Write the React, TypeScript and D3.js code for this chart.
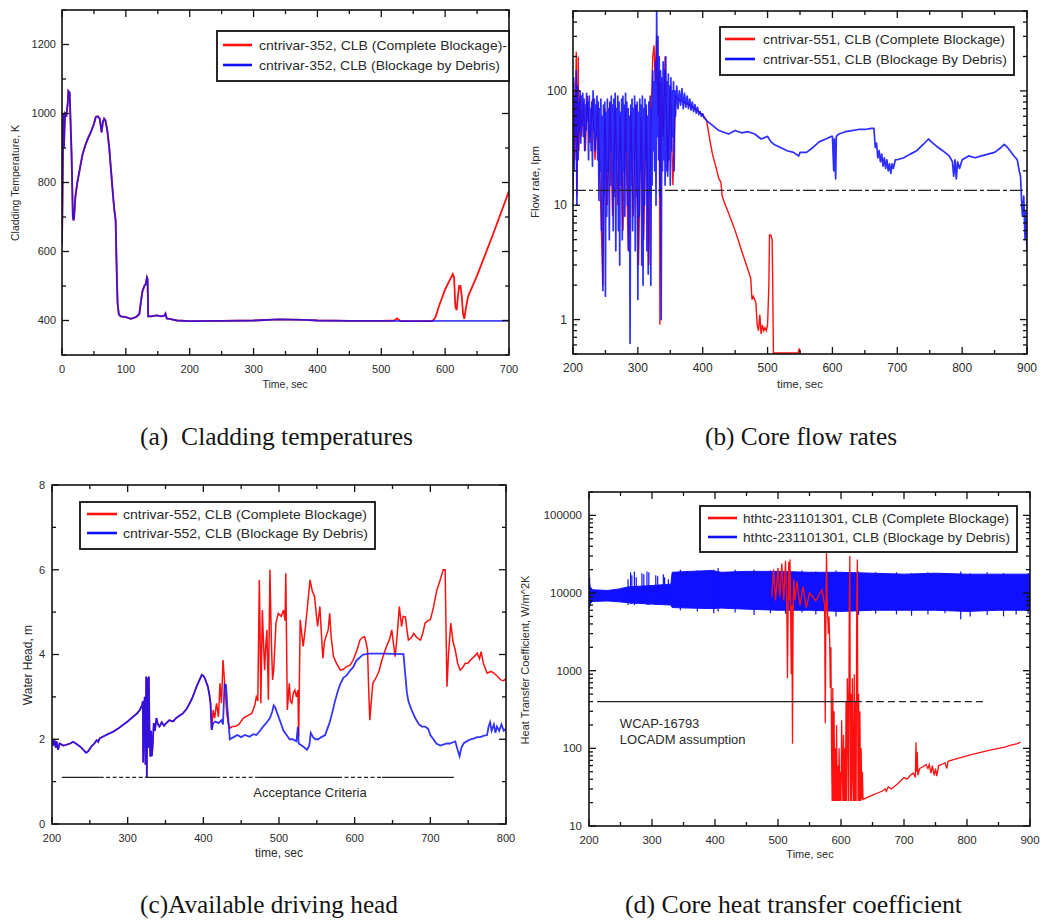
import React, { useEffect, useRef } from 'react'
import * as d3 from 'd3'

const RED = '#ff1010'
const BLUE = '#1010ff'
const INK = '#2a2a2a'
const SANS = '"Liberation Sans", Arial, sans-serif'
const SERIF = '"Liberation Serif", "Times New Roman", serif'

// (a) cladding temperature [time s, K]
const cladDebris = [
  [0, 620], [1, 800], [2, 1000], [3, 900], [4, 960], [5, 1000], [7, 995], [9, 1030], [10, 1065], [12, 1060],
  [13, 1000], [15, 880], [17, 700], [18, 690], [19, 700], [21, 760], [24, 800], [28, 840], [32, 880], [36, 905],
  [40, 925], [45, 945], [50, 970], [53, 990], [56, 992], [59, 985], [61, 960], [62, 945], [64, 975], [66, 985],
  [68, 980], [71, 950], [74, 900], [77, 830], [80, 760], [82, 720], [84, 690], [85, 600], [86, 520], [87, 450],
  [89, 418], [92, 412], [100, 410], [108, 405], [116, 410], [121, 418], [124, 460], [126, 485], [129, 500], [131, 505],
  [133, 525], [134, 520], [135, 412], [140, 412], [148, 415], [156, 412], [160, 414], [162, 420], [164, 406], [170, 404],
  [180, 400], [200, 398], [250, 399], [300, 400], [340, 403], [380, 402], [400, 400], [450, 399], [500, 399], [550, 398],
  [600, 399], [650, 399], [700, 399],
]
const cladCompleteTail = [
  [520, 400], [525, 406], [530, 398], [580, 398], [585, 410], [590, 440], [600, 490], [608, 520], [612, 535], [614, 525],
  [616, 440], [618, 430], [620, 470], [622, 500], [624, 500], [626, 470], [628, 420], [630, 405], [632, 430], [636, 470],
  [650, 530], [675, 650], [700, 775],
]

// (b) core flow rate [time s, lpm]
const flowDebris = [
  [200, 12], [201, 130], [202, 20], [203, 90], [204, 40], [205, 150], [206, 10], [207, 110], [208, 25], [209, 80],
  [210, 45], [211, 100], [212, 35], [213, 90], [214, 50], [215, 95], [216, 40], [217, 85], [218, 30], [219, 75],
  [220, 45], [221, 95], [222, 55], [223, 80], [224, 25], [225, 90], [226, 40], [227, 70], [228, 30], [229, 80],
  [230, 22], [231, 100], [232, 45], [233, 85], [234, 30], [235, 75], [236, 40], [237, 90], [238, 25], [239, 80],
  [240, 11], [241, 70], [242, 20], [243, 85], [244, 6], [245, 60], [246, 1.8], [247, 75], [248, 12], [249, 80],
  [250, 1.6], [251, 65], [252, 8], [253, 85], [254, 20], [255, 70], [256, 5], [257, 80], [258, 15], [259, 90],
  [260, 30], [261, 75], [262, 6], [263, 85], [264, 12], [265, 95], [266, 4], [267, 70], [268, 25], [269, 90],
  [270, 6], [271, 80], [272, 3], [273, 65], [274, 15], [275, 85], [276, 5], [277, 90], [278, 20], [279, 75],
  [280, 8], [281, 95], [282, 30], [283, 80], [284, 10], [285, 70], [286, 4], [287, 60], [288, 0.62], [289, 75],
  [290, 15], [291, 85], [292, 6], [293, 70], [294, 25], [295, 90], [296, 4], [297, 75], [298, 12], [299, 80],
  [300, 1.5], [301, 65], [302, 8], [303, 85], [304, 20], [305, 75], [306, 3], [307, 90], [308, 2], [309, 70],
  [310, 10], [311, 85], [312, 25], [313, 75], [314, 4], [315, 60], [316, 2.5], [317, 80], [318, 12], [319, 90],
  [320, 2], [321, 70], [322, 15], [323, 150], [324, 30], [325, 120], [326, 20], [327, 180], [328, 10], [329, 520],
  [330, 40], [331, 300], [332, 25], [333, 200], [334, 12], [335, 150], [336, 1.0], [337, 130], [338, 20], [339, 180],
  [340, 25], [341, 150], [342, 15], [343, 200], [344, 20], [345, 120], [346, 18], [347, 140], [348, 25], [349, 110],
  [350, 15], [351, 130], [352, 30], [353, 100], [354, 40], [355, 120], [356, 20], [357, 100], [358, 60], [360, 110],
  [362, 70], [364, 100], [366, 75], [368, 105], [370, 70], [372, 95], [374, 72], [376, 90], [378, 70], [380, 85],
  [382, 68], [384, 80], [386, 66], [388, 76], [390, 64], [392, 72], [394, 62], [396, 66], [398, 60], [400, 63],
  [402, 58], [404, 57], [406, 55], [415, 50], [425, 45], [440, 42], [450, 45], [460, 43], [470, 44], [480, 42],
  [490, 38], [500, 40], [505, 36], [510, 34], [520, 32], [530, 30], [540, 29], [548, 27], [550, 29], [560, 29],
  [570, 32], [580, 36], [590, 38], [598, 40], [600, 40], [602, 20], [603, 38], [605, 17], [606, 40], [610, 42],
  [620, 44], [630, 45], [640, 46], [650, 46], [660, 47], [664, 47], [666, 32], [668, 35], [670, 26], [672, 30],
  [674, 24], [676, 28], [678, 22], [680, 26], [682, 21], [684, 25], [686, 20], [688, 23], [690, 19], [692, 23],
  [694, 21], [697, 25], [700, 25], [710, 26], [720, 28], [730, 30], [740, 34], [748, 38], [752, 36], [760, 33],
  [770, 30], [780, 27], [785, 24], [787, 18], [789, 25], [791, 17], [793, 24], [796, 21], [800, 25], [810, 27],
  [820, 26], [830, 27], [840, 28], [850, 29], [860, 32], [865, 34], [870, 32], [880, 27], [885, 25], [888, 20],
  [890, 18], [892, 10], [893, 8], [895, 12], [897, 5], [898, 9], [900, 4],
]
const flowCompleteEarly = [
  [200, 15], [201, 120], [203, 25], [205, 220], [206, 12], [208, 200], [209, 30], [211, 90], [213, 40], [216, 80],
  [219, 30], [222, 90], [226, 35], [230, 85], [234, 25], [238, 75], [242, 15], [246, 2], [249, 70], [253, 10],
  [257, 80], [261, 8], [265, 75], [269, 10], [273, 60], [277, 6], [281, 70], [285, 4], [289, 65], [293, 8],
  [297, 75], [301, 3], [305, 60], [309, 5], [313, 70], [317, 3], [320, 50], [323, 200], [325, 250], [327, 120],
  [329, 300], [331, 60], [333, 150], [334, 0.9], [336, 120], [339, 40], [342, 200], [346, 20], [350, 110], [354, 15],
  [358, 90], [362, 85], [370, 80], [380, 75], [390, 68], [400, 62],
]
const flowCompleteTail = [
  [406, 55], [410, 40], [415, 28], [420, 22], [425, 17], [428, 16], [430, 12], [435, 10], [440, 8.5], [450, 6],
  [460, 4], [470, 2.7], [474, 2.3], [476, 1.5], [478, 1.6], [480, 1.5], [482, 1.4], [484, 0.9], [486, 0.8], [488, 1.1],
  [490, 0.75], [492, 0.9], [494, 0.8], [496, 0.85], [498, 0.8], [500, 0.9], [502, 2], [503, 5.5], [505, 5.5], [507, 5],
  [508, 2], [509, 0.51], [547, 0.51], [549, 0.56], [550, 0.51],
]
const flowLimit = 13.5

// (c) available driving head [time s, m]
const headDebris = [
  [200, 1.98], [202, 1.85], [203, 2.0], [205, 1.8], [206, 1.95], [208, 1.75], [210, 1.9], [215, 1.85], [219, 1.87], [224, 1.9],
  [228, 1.94], [233, 1.88], [237, 1.83], [241, 1.76], [245, 1.68], [248, 1.72], [252, 1.83], [256, 1.9], [259, 1.98], [261, 1.94],
  [263, 2.02], [267, 2.06], [274, 2.12], [281, 2.18], [288, 2.26], [294, 2.34], [300, 2.42], [307, 2.53], [312, 2.6], [316, 2.69],
  [319, 2.8], [320, 2.9], [320.5, 1.45], [321.5, 2.6], [322.5, 3.0], [323.5, 1.4], [324.5, 3.48], [325.3, 1.1], [326.2, 3.45], [327, 1.8],
  [328, 3.48], [329, 2.0], [330, 1.59], [331, 2.2], [332, 1.6], [333, 1.83], [334.5, 2.38], [336, 2.2], [338, 2.5], [340, 2.35],
  [342, 2.3], [345, 2.4], [348, 2.32], [351, 2.38], [355, 2.45], [360, 2.42], [364, 2.5], [368, 2.55], [373, 2.61], [378, 2.72],
  [382, 2.85], [386, 3.0], [391, 3.24], [395, 3.4], [398, 3.52], [400, 3.5], [402, 3.44], [406, 3.24], [408, 3.05], [409.5, 2.85],
  [411, 2.22], [413, 2.38], [416, 2.42], [420, 2.38], [424, 2.45], [426, 2.35], [428, 3.3], [430, 3.28], [432, 2.7], [435, 2.0],
  [440, 2.05], [445, 2.1], [450, 2.05], [455, 2.1], [461, 2.06], [466, 2.12], [470, 2.1], [475, 2.2], [479, 2.3], [484, 2.4],
  [488, 2.5], [491, 2.65], [493, 2.8], [495, 2.75], [498, 2.6], [502, 2.4], [506, 2.2], [510, 2.1], [514, 2.0], [518, 2.0],
  [523, 1.95], [525, 2.3], [526, 1.9], [530, 1.85], [534, 1.8], [537, 1.75], [540, 1.85], [542, 2.15], [545, 2.05], [548, 2.0],
  [552, 2.0], [556, 2.05], [561, 2.1], [564, 2.25], [567, 2.4], [570, 2.6], [574, 2.9], [578, 3.15], [581, 3.3], [585, 3.45],
  [589, 3.5], [593, 3.6], [598, 3.7], [602, 3.85], [605, 3.9], [608, 3.95], [611.5, 4.0], [620, 4.02], [640, 4.02], [664.5, 4.01],
  [667, 3.5], [669, 3.1], [671, 2.9], [675, 2.7], [680, 2.5], [685, 2.35], [689, 2.3], [693, 2.3], [697, 2.25], [700, 2.1],
  [704, 2.0], [708, 1.9], [713, 1.85], [718, 1.88], [722, 1.9], [726, 1.9], [730, 1.93], [733, 1.95], [736, 1.75], [738.6, 1.6],
  [741, 1.8], [744, 1.9], [748, 1.95], [753, 2.0], [758, 2.02], [762, 2.05], [766, 2.05], [770, 2.08], [775, 2.1], [777, 2.3],
  [779, 2.4], [781, 2.2], [784, 2.35], [786, 2.15], [788, 2.3], [791, 2.2], [794, 2.35], [797, 2.2], [800, 2.25],
]
const headCompleteTail = [
  [411, 2.22], [413, 2.69], [415, 2.5], [417.5, 2.85], [420, 2.53], [422, 3.32], [424, 2.85], [426, 3.87], [428.5, 3.24], [431, 2.6],
  [433, 2.38], [435, 2.26], [438, 2.3], [442, 2.3], [447, 2.35], [453, 2.5], [458, 2.55], [464, 2.61], [468, 2.8], [470, 3.0],
  [472, 2.9], [474, 5.76], [475, 4.5], [476, 2.85], [478, 5.05], [479.5, 4.3], [481, 3.63], [482.5, 4.2], [484, 4.58], [486, 2.93],
  [488, 6.0], [490, 4.26], [491.5, 3.4], [493, 3.63], [496, 4.74], [499, 4.97], [503, 4.9], [506, 5.05], [508, 4.8], [509, 5.92],
  [511, 2.69], [513.6, 3.32], [515, 2.9], [517, 2.85], [519, 3.1], [521, 3.16], [523, 3.0], [525, 3.16], [526, 2.06], [528, 4.82],
  [530, 4.5], [532, 4.19], [535, 4.66], [538, 5.2], [541, 5.76], [544, 5.5], [547, 5.37], [549, 5.0], [551, 4.66], [554, 5.13],
  [556, 4.5], [558, 3.91], [560, 4.3], [562, 4.42], [565, 4.58], [567, 4.97], [569, 4.4], [572, 3.95], [576, 3.79], [581, 3.63],
  [585, 3.65], [589, 3.71], [594, 3.75], [598, 3.87], [603, 4.1], [607, 4.34], [610, 4.4], [613, 4.42], [615, 4.3], [617, 4.1],
  [618.5, 3.2], [620, 2.45], [622, 2.9], [624, 3.32], [629, 3.48], [632, 3.6], [636, 3.87], [642, 4.19], [646, 4.35], [649, 4.58],
  [651, 4.3], [653.5, 3.95], [656, 4.4], [659, 5.13], [662, 4.66], [664, 4.9], [667, 4.89], [669, 4.6], [671, 4.34], [675, 4.4],
  [678, 4.5], [682, 4.4], [687, 4.34], [690, 4.5], [693, 4.74], [697, 4.8], [700, 4.82], [704, 5.1], [708.6, 5.52], [712, 5.7],
  [717, 6.0], [719.6, 6.0], [720.8, 4.5], [722, 3.24], [724, 4.0], [727, 4.74], [730, 4.3], [733, 4.1], [736, 3.8], [739.5, 3.63],
  [743, 3.7], [746, 3.79], [750, 3.8], [753, 3.87], [758, 3.95], [762, 4.03], [765, 3.9], [767, 4.07], [770, 3.8], [775, 3.56],
  [780, 3.6], [784, 3.56], [788, 3.5], [793, 3.4], [797, 3.38], [800, 3.44],
]
const headCriteria = 1.1
// [from s, to s, dashed]
const headCriteriaSegments = [
  [213, 263, 0], [263, 323, 1], [323, 417, 0], [417, 472, 1], [472, 578, 0], [578, 636, 1], [636, 731, 0],
]

// (d) heat transfer coefficient band [time s, low, high] W/m2K
const htcDebrisBand = [
  [200, 6800, 14000], [202, 7300, 12000], [206, 7800, 11000], [230, 7900, 10800], [248, 7700, 11300], [262, 7500, 12000],
  [300, 7200, 12500], [330, 7000, 13000], [332, 6500, 18500], [360, 6400, 19000], [395, 6300, 19500], [410, 6400, 18500],
  [450, 6200, 19000], [500, 6000, 19000], [550, 6000, 18500], [600, 5800, 18500], [650, 6000, 18000], [700, 6000, 17500],
  [750, 6000, 18000], [800, 5800, 17500], [850, 6000, 17500], [900, 6000, 17500],
]
const htcDebrisSpikes = [
  [201, 6500, 16000], [262, 7000, 15000], [266, 7200, 18500], [268, 7200, 17000], [272, 7000, 19000], [275, 7200, 16000],
  [284, 7300, 18000], [287, 7200, 17500], [292, 7000, 19000], [295, 7000, 18500], [306, 7000, 17000], [309, 7100, 16500],
  [318, 7100, 17500], [320, 7000, 16000], [326, 7000, 15000], [345, 6000, 20000], [372, 5800, 19500],
  [398, 5500, 20000], [405, 5800, 21000], [432, 5600, 20000], [462, 5200, 20000], [488, 5500, 19500], [512, 5400, 20000],
  [538, 5600, 19500], [560, 5300, 19000], [592, 5000, 19500], [628, 5200, 19000], [655, 5400, 18500], [688, 5300, 18500],
  [712, 5100, 18000], [738, 5300, 18500], [765, 5500, 18000], [790, 4600, 19000], [805, 5000, 18000], [832, 5200, 18500],
  [858, 5000, 18000], [878, 5300, 17500], [897, 5400, 18000],
]
const htcComplete = [
  [490, 9000], [493, 20000], [496, 8000], [500, 21000], [503, 9000], [506, 24000], [509, 8000], [512, 26000], [514, 6000], [515, 800],
  [516, 5000], [517, 25000], [518, 8000], [519, 27000], [520, 6000], [521, 900], [522, 7000], [523, 115], [524, 6000], [525, 15000],
  [527, 8000], [530, 14000], [535, 7000], [540, 12000], [545, 6500], [550, 10000], [560, 8000], [570, 11000], [574, 7000], [575, 210],
  [576, 4000], [577, 36000], [578, 8000], [580, 3000], [581, 5000], [582, 2500], [583, 600], [584, 2000], [585, 100], [586, 21],
  [587, 600], [588, 21], [589, 300], [590, 21], [591, 100], [592, 21], [593, 200], [594, 21], [595, 60], [596, 21],
  [597, 100], [598, 21], [599, 50], [600, 21], [601, 230], [602, 60], [603, 21], [604, 150], [605, 21], [606, 100],
  [607, 21], [608, 400], [609, 21], [610, 800], [611, 300], [612, 21], [613, 5000], [614, 30000], [615, 21], [616, 500],
  [617, 21], [618, 800], [619, 50], [620, 21], [621, 900], [622, 21], [623, 400], [624, 21], [625, 8000], [626, 27000],
  [627, 21], [628, 500], [629, 21], [630, 300], [631, 21], [632, 100], [633, 22], [634, 50], [635, 22], [640, 23],
  [650, 25], [655, 26], [660, 27], [665, 28], [670, 30], [672, 28], [675, 32], [680, 30], [690, 35], [700, 42],
  [705, 40], [710, 45], [715, 48], [718, 42], [719, 120], [720, 50], [721, 90], [722, 45], [725, 55], [730, 58],
  [735, 62], [738, 55], [740, 62], [743, 48], [745, 60], [748, 45], [750, 55], [752, 44], [755, 60], [760, 62],
  [765, 65], [768, 55], [770, 68], [780, 72], [790, 76], [800, 80], [810, 84], [820, 88], [830, 92], [840, 96],
  [850, 100], [860, 104], [870, 110], [880, 115], [885, 120],
]
const htcLocadm = 400
const htcLocadmSegments = [[213, 622, 0], [622, 830, 1]]

function logMinor(lo, hi) {
  const out = []
  for (let d = Math.pow(10, Math.floor(Math.log10(lo))); d < hi; d *= 10) {
    for (let k = 2; k <= 9; k++) {
      const v = d * k
      if (v >= lo * 0.999 && v <= hi * 1.001) out.push(v)
    }
  }
  return out
}

function setupPanel(svg, id, p) {
  const x = d3.scaleLinear().domain(p.xDomain).range([p.left, p.right])
  const y = (p.log ? d3.scaleLog() : d3.scaleLinear()).domain(p.yDomain).range([p.bottom, p.top])
  svg.append('defs').append('clipPath').attr('id', id)
    .append('rect').attr('x', p.left).attr('y', p.top)
    .attr('width', p.right - p.left).attr('height', p.bottom - p.top)
  const plot = svg.append('g').attr('clip-path', `url(#${id})`)
  return { x, y, plot }
}

function finishPanel(svg, p, x, y) {
  const g = svg.append('g')
  g.append('rect')
    .attr('x', p.left).attr('y', p.top).attr('width', p.right - p.left).attr('height', p.bottom - p.top)
    .attr('fill', 'none').attr('stroke', '#111').attr('stroke-width', 1.6)
  const tick = (x1, y1, x2, y2) => g.append('line')
    .attr('x1', x1).attr('y1', y1).attr('x2', x2).attr('y2', y2)
    .attr('stroke', '#111').attr('stroke-width', 1.3)
  p.xMajor.forEach(v => { const px = x(v); tick(px, p.bottom, px, p.bottom - 7); tick(px, p.top, px, p.top + 7) })
  p.xMinor.forEach(v => { const px = x(v); tick(px, p.bottom, px, p.bottom - 4); tick(px, p.top, px, p.top + 4) })
  p.yMajor.forEach(v => { const py = y(v); tick(p.left, py, p.left + 7, py); tick(p.right, py, p.right - 7, py) })
  p.yMinor.forEach(v => { const py = y(v); tick(p.left, py, p.left + 4, py); tick(p.right, py, p.right - 4, py) })

  p.xMajor.forEach(v => {
    g.append('text').attr('x', x(v)).attr('y', p.bottom + 18)
      .attr('text-anchor', 'middle').attr('font-size', p.tickFont).attr('font-family', SANS)
      .attr('fill', INK).text(String(v))
  })
  p.yLabels.forEach(v => {
    g.append('text').attr('x', p.left - p.yGap).attr('y', y(v)).attr('dy', '0.35em')
      .attr('text-anchor', 'end').attr('font-size', p.tickFont).attr('font-family', SANS)
      .attr('fill', INK).text(String(v))
  })
  g.append('text').attr('x', p.xTitle[0]).attr('y', p.xTitle[1])
    .attr('text-anchor', 'middle').attr('font-size', p.titleFont).attr('font-family', SANS)
    .attr('fill', INK).text(p.xTitle[2])
  g.append('text').attr('transform', `translate(${p.yTitle[0]},${p.yTitle[1]}) rotate(-90)`)
    .attr('dy', '0.35em').attr('text-anchor', 'middle').attr('font-size', p.titleFont)
    .attr('font-family', SANS).attr('fill', INK).text(p.yTitle[2])
}

function legend(svg, L) {
  const g = svg.append('g')
  g.append('rect').attr('x', L.x).attr('y', L.y).attr('width', L.w).attr('height', L.h)
    .attr('fill', '#fff').attr('stroke', '#111').attr('stroke-width', 1.8)
  L.rows.forEach((r, i) => {
    const ry = L.rowY[i]
    g.append('line').attr('x1', L.line[0]).attr('x2', L.line[1]).attr('y1', ry).attr('y2', ry)
      .attr('stroke', r.color).attr('stroke-width', 2.6)
    g.append('text').attr('x', L.textX).attr('y', ry).attr('dy', '0.35em')
      .attr('font-size', 13.5).attr('font-family', SANS).attr('fill', INK)
      .attr('textLength', r.width).attr('lengthAdjust', 'spacingAndGlyphs')
      .text(r.label)
  })
}

function segLine(plot, x, y, value, segs, dash) {
  segs.forEach(s => {
    plot.append('line').attr('x1', x(s[0])).attr('x2', x(s[1])).attr('y1', y(value)).attr('y2', y(value))
      .attr('stroke', '#222').attr('stroke-width', 1.3)
      .attr('stroke-dasharray', s[2] ? dash : null)
  })
}

function drawCladding(svg) {
  const p = {
    left: 62, right: 509, top: 10, bottom: 355, xDomain: [0, 700], yDomain: [300, 1300], log: false,
    xMajor: d3.range(0, 701, 100), xMinor: d3.range(50, 700, 100),
    yMajor: d3.range(400, 1201, 200), yMinor: d3.range(300, 1301, 200), yLabels: d3.range(400, 1201, 200),
    tickFont: 11, yGap: 6, titleFont: 10.5,
    xTitle: [285, 388, 'Time, sec'], yTitle: [15, 183, 'Cladding Temperature, K'],
  }
  const { x, y, plot } = setupPanel(svg, 'clipA', p)
  const line = d3.line().x(d => x(d[0])).y(d => y(d[1]))
  const complete = [...cladDebris.filter(d => d[0] < 520), ...cladCompleteTail]
  plot.append('path').attr('d', line(complete)).attr('fill', 'none').attr('stroke', RED).attr('stroke-width', 1.8)
  plot.append('path').attr('d', line(cladDebris)).attr('fill', 'none').attr('stroke', BLUE)
    .attr('stroke-width', 1.8).attr('stroke-opacity', 0.78)
  finishPanel(svg, p, x, y)
  legend(svg, {
    x: 217, y: 31, w: 292, h: 50, rowY: [45, 65], line: [223, 252], textX: 259,
    rows: [
      { label: 'cntrivar-352, CLB (Complete Blockage)-', color: RED, width: 248 },
      { label: 'cntrivar-352, CLB (Blockage by Debris)', color: BLUE, width: 241 },
    ],
  })
}

function drawFlow(svg) {
  const p = {
    left: 573, right: 1027, top: 11, bottom: 354, xDomain: [200, 900], yDomain: [0.5, 500], log: true,
    xMajor: d3.range(200, 901, 100), xMinor: d3.range(250, 900, 100),
    yMajor: [1, 10, 100], yMinor: logMinor(0.5, 500), yLabels: [1, 10, 100],
    tickFont: 12, yGap: 6, titleFont: 11.5,
    xTitle: [800, 388, 'time, sec'], yTitle: [535, 182, 'Flow rate, lpm'],
  }
  const { x, y, plot } = setupPanel(svg, 'clipB', p)
  const line = d3.line().x(d => x(d[0])).y(d => y(d[1]))
  plot.append('path').attr('d', line([...flowCompleteEarly, ...flowCompleteTail]))
    .attr('fill', 'none').attr('stroke', RED).attr('stroke-width', 1.4)
  plot.append('path').attr('d', line(flowDebris)).attr('fill', 'none').attr('stroke', BLUE)
    .attr('stroke-width', 1.7).attr('stroke-opacity', 0.88).attr('stroke-linejoin', 'round')
  plot.append('line').attr('x1', x(200)).attr('x2', x(900)).attr('y1', y(flowLimit)).attr('y2', y(flowLimit))
    .attr('stroke', '#222').attr('stroke-width', 1.3).attr('stroke-dasharray', '13,3,4,3')
  finishPanel(svg, p, x, y)
  legend(svg, {
    x: 720, y: 27, w: 294, h: 48, rowY: [39, 59], line: [725, 755], textX: 763,
    rows: [
      { label: 'cntrivar-551, CLB (Complete Blockage)', color: RED, width: 242 },
      { label: 'cntrivar-551, CLB (Blockage By Debris)', color: BLUE, width: 244 },
    ],
  })
}

function drawHead(svg) {
  const p = {
    left: 52, right: 506, top: 485, bottom: 824, xDomain: [200, 800], yDomain: [0, 8], log: false,
    xMajor: d3.range(200, 801, 100), xMinor: d3.range(250, 800, 100),
    yMajor: d3.range(0, 9, 2), yMinor: d3.range(1, 8, 2), yLabels: d3.range(0, 9, 2),
    tickFont: 11, yGap: 7, titleFont: 12,
    xTitle: [279, 857, 'time, sec'], yTitle: [28, 665, 'Water Head, m'],
  }
  const { x, y, plot } = setupPanel(svg, 'clipC', p)
  const line = d3.line().x(d => x(d[0])).y(d => y(d[1]))
  const complete = [...headDebris.filter(d => d[0] < 411), ...headCompleteTail]
  plot.append('path').attr('d', line(complete)).attr('fill', 'none').attr('stroke', RED).attr('stroke-width', 1.5)
  plot.append('path').attr('d', line(headDebris)).attr('fill', 'none').attr('stroke', BLUE)
    .attr('stroke-width', 1.8).attr('stroke-opacity', 0.85)
  segLine(plot, x, y, headCriteria, headCriteriaSegments, '4,2.5')
  plot.append('text').attr('x', x(541)).attr('y', y(0.74)).attr('dy', '0.35em')
    .attr('text-anchor', 'middle').attr('font-size', 13).attr('font-family', SANS).attr('fill', INK)
    .text('Acceptance Criteria')
  finishPanel(svg, p, x, y)
  legend(svg, {
    x: 80, y: 502, w: 295, h: 47, rowY: [514, 533], line: [87, 117], textX: 123,
    rows: [
      { label: 'cntrivar-552, CLB (Complete Blockage)', color: RED, width: 244 },
      { label: 'cntrivar-552, CLB (Blockage By Debris)', color: BLUE, width: 245 },
    ],
  })
}

function drawHtc(svg) {
  const p = {
    left: 589, right: 1030, top: 492, bottom: 826, xDomain: [200, 900], yDomain: [10, 200000], log: true,
    xMajor: d3.range(200, 901, 100), xMinor: d3.range(250, 900, 100),
    yMajor: [10, 100, 1000, 10000, 100000], yMinor: logMinor(10, 200000), yLabels: [10, 100, 1000, 10000, 100000],
    tickFont: 11.5, yGap: 7, titleFont: 11,
    xTitle: [810, 858, 'Time, sec'], yTitle: [525, 660, 'Heat Transfer Coefficient, W/m^2K'],
  }
  const { x, y, plot } = setupPanel(svg, 'clipD', p)
  const area = d3.area().x(d => x(d[0])).y0(d => y(d[1])).y1(d => y(d[2]))
  plot.append('path').attr('d', area(htcDebrisBand)).attr('fill', BLUE).attr('stroke', BLUE).attr('stroke-width', 1)
  htcDebrisSpikes.forEach(s => {
    plot.append('line').attr('x1', x(s[0])).attr('x2', x(s[0])).attr('y1', y(s[1])).attr('y2', y(s[2]))
      .attr('stroke', BLUE).attr('stroke-width', 1.2)
  })
  const line = d3.line().x(d => x(d[0])).y(d => y(d[1]))
  plot.append('path').attr('d', line(htcComplete)).attr('fill', 'none').attr('stroke', RED).attr('stroke-width', 1.3)
  segLine(plot, x, y, htcLocadm, htcLocadmSegments, '7,4')
  plot.append('text').attr('x', x(249)).attr('y', y(184)).attr('font-size', 13)
    .attr('font-family', SANS).attr('fill', INK).text('WCAP-16793')
  plot.append('text').attr('x', x(249)).attr('y', y(115)).attr('font-size', 13)
    .attr('font-family', SANS).attr('fill', INK).text('LOCADM assumption')
  finishPanel(svg, p, x, y)
  legend(svg, {
    x: 700, y: 506, w: 317, h: 46, rowY: [518, 537], line: [708, 737], textX: 743,
    rows: [
      { label: 'hthtc-231101301, CLB (Complete Blockage)', color: RED, width: 266 },
      { label: 'hthtc-231101301, CLB (Blockage by Debris)', color: BLUE, width: 267 },
    ],
  })
}

const captions = [
  { text: '(a)  Cladding temperatures', x: 140, y: 445, width: 273 },
  { text: '(b) Core flow rates', x: 705, y: 445, width: 192 },
  { text: '(c)Available driving head', x: 140, y: 913, width: 258 },
  { text: '(d) Core heat transfer coefficient', x: 625, y: 913, width: 337 },
]

export default function App() {
  const ref = useRef(null)
  useEffect(() => {
    const svg = d3.select(ref.current)
    svg.selectAll('*').remove()
    drawCladding(svg)
    drawFlow(svg)
    drawHead(svg)
    drawHtc(svg)
    captions.forEach(c => {
      svg.append('text').attr('x', c.x).attr('y', c.y)
        .attr('font-size', 25).attr('font-family', SERIF).attr('fill', '#151515')
        .attr('textLength', c.width).attr('lengthAdjust', 'spacingAndGlyphs')
        .style('white-space', 'pre').text(c.text)
    })
  }, [])
  return (
    <svg ref={ref} width={1050} height={922}
      style={{ position: 'absolute', left: 0, top: 0, background: '#fff', display: 'block' }} />
  )
}
